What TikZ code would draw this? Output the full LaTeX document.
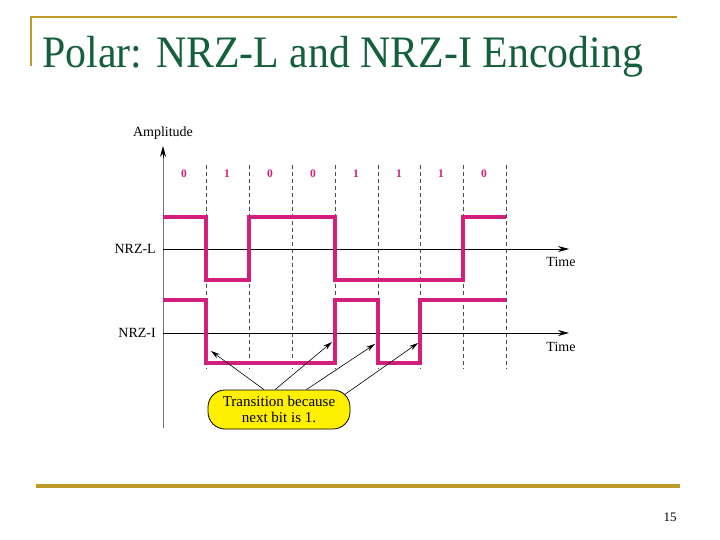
\documentclass[tikz,border=0pt]{standalone}
\usepackage{fontspec}
\setmainfont{Liberation Serif}
\usetikzlibrary{arrows.meta}
\definecolor{gold}{RGB}{190,155,40}
\definecolor{titlegreen}{RGB}{20,95,60}
\definecolor{sig}{RGB}{210,30,125}
\definecolor{notefill}{RGB}{255,240,0}
\begin{document}
\begin{tikzpicture}[x=1pt,y=-1pt,
  sigline/.style={sig, line width=3.5pt, line join=miter},
  gridline/.style={black!70, dash pattern=on 4pt off 3pt, line width=0.6pt},
  bitlbl/.style={text=sig, font=\fontsize{11.5}{11.5}\selectfont\bfseries, inner sep=0},
  lbl/.style={font=\fontsize{14}{14}\selectfont, inner sep=0},
  taxis/.style={black, line width=0.7pt, -{Stealth[length=11pt,width=6pt]}},
  callarrow/.style={black, line width=0.6pt, -{Stealth[length=9pt,width=5pt]}},
  goldline/.style={gold, line width=2.5pt}
]
\useasboundingbox (0,0) rectangle (720,540);
\fill[white] (0,0) rectangle (720,540);
% frame lines
\draw[goldline] (30,17) -- (677,17);
\draw[goldline] (31,16) -- (31,66);
\draw[gold, line width=3.5pt] (36,486) -- (680,486);
\node[anchor=base west, inner sep=0, text=titlegreen, font=\fontsize{45}{45}\selectfont] (title) at (42,68) {\scalebox{0.93}[1]{Polar: NRZ-L and NRZ-I Encoding}};
\node[lbl, anchor=base, font=\fontsize{13}{13}\selectfont] (page) at (670,521) {15};
% grid lines
\foreach \x in {206,249,292,335,378,420,463,506}
  \draw[gridline] (\x,165) -- (\x,369);
% amplitude axis
\coordinate (ab) at (163,428);
\coordinate (at) at (163,146);
\draw[black!55, line width=1pt] (ab) -- (163,155);
\draw[black, line width=0.8pt, -{Stealth[length=11pt,width=6pt]}] (163,158) -- (at);
\node[lbl] (amp) at (163,133) {Amplitude};
% bit labels
\foreach \x/\b [count=\i] in {184/0,227/1,270/0,313/0,356/1,399/1,441/1,484/0}
  \node[bitlbl] (bit\i) at (\x,174) {\b};
% time axes
\coordinate (l0) at (163,249); \coordinate (l1) at (569,249);
\coordinate (i0) at (163,333); \coordinate (i1) at (569,333);
\draw[taxis] (l0) -- (l1);
\draw[taxis] (i0) -- (i1);
\node[lbl] (time1) at (561,262) {Time};
\node[lbl] (time2) at (561,347) {Time};
\node[lbl, anchor=east] (nrzl) at (156,249) {NRZ-L};
\node[lbl, anchor=east] (nrzi) at (156,333) {NRZ-I};
% signals
\draw[sigline] (163,217) -- (206,217) -- (206,280) -- (249,280) -- (249,217) -- (335,217) -- (335,280) -- (463,280) -- (463,217) -- (506,217);
\draw[sigline] (163,300) -- (206,300) -- (206,363) -- (335,363) -- (335,300) -- (378,300) -- (378,363) -- (420,363) -- (420,300) -- (506,300);
% callout
\node[draw=black, line width=0.8pt, fill=notefill, rounded corners=17pt, minimum width=142pt, minimum height=39pt, align=center, inner sep=0, font=\fontsize{15}{16}\selectfont] (note) at (279,409.5) {Transition because\\next bit is 1.};
\coordinate (t1) at (211,351);
\coordinate (t2) at (332,342);
\coordinate (t3) at (375,344);
\coordinate (t4) at (418,343);
\coordinate (s4) at (344,395);
\draw[callarrow] (note.127) -- (t1);
\draw[callarrow] (note.101) -- (t2);
\draw[callarrow] (note.36) -- (t3);
\draw[callarrow] (s4) -- (t4);
\end{tikzpicture}
\end{document}
